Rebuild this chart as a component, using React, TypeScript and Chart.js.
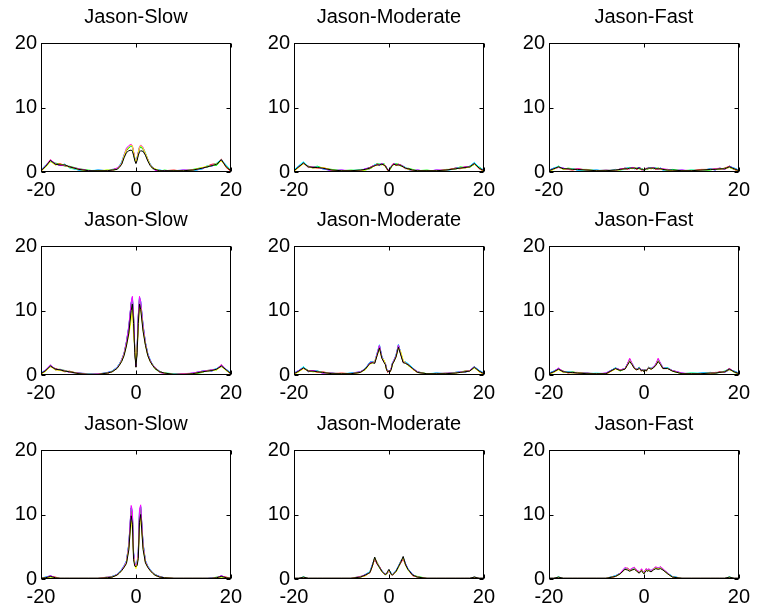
import { useEffect, useRef } from "react";
import { Chart, registerables } from "chart.js";

Chart.register(...registerables);

// Shared sample positions along the horizontal axis (denser near the centre)
const X = [
  -20, -19, -18, -17, -16, -15, -14,
  -12, -10, -8, -6, -5, -4,
  -3.5, -3, -2.5, -2, -1.5, -1,
  -0.75, -0.5, -0.25, 0, 0.25, 0.5, 0.75,
  1, 1.5, 2, 2.5, 3, 3.5, 4,
  5, 6, 8, 10, 12,
  14, 15, 16, 17, 18, 19, 20,
];

const TRIAL_COLORS = ["#0000ff", "#00ff00", "#ff0000", "#00ffff", "#ff00ff", "#ffff00", "#000000"];

// Each panel: seven trials in the order blue, green, red, cyan, magenta, yellow, black
const slowA = [
  [0.3,1.0,1.6,1.3,1.0,1.2,0.7, 0.3,0.1,0.3,0.2,0.4,0.5, 0.9,1.4,2.6,3.5,3.8,4.0, 3.9,3.0,2.0,1.5,2.1,2.9,3.7, 4.0,3.6,2.8,1.9,1.1,0.7,0.3, 0.3,0.1,0.2,0.3,0.2, 0.5,0.9,0.9,1.3,1.7,0.9,0.3],
  [0.2,0.8,1.7,1.4,1.2,0.9,0.9, 0.5,0.3,0.1,0.3,0.2,0.5, 0.8,1.3,2.4,3.3,3.7,4.1, 3.8,2.9,1.9,1.4,2.0,2.8,3.6, 3.9,3.5,2.7,1.8,1.2,0.5,0.5, 0.1,0.3,0.1,0.2,0.4, 0.7,0.7,1.1,1.0,1.8,1.0,0.2],
  [0.1,0.9,1.9,1.1,1.3,1.0,0.8, 0.4,0.2,0.2,0.1,0.3,0.6, 0.9,1.5,2.5,3.4,3.9,4.2, 4.0,3.1,2.1,1.6,2.2,3.0,3.8, 4.1,3.7,2.9,2.0,1.1,0.8,0.4, 0.2,0.2,0.3,0.1,0.3, 0.6,0.9,1.2,1.3,2.0,0.7,0.1],
  [0.3,1.1,1.7,1.2,1.1,1.2,0.6, 0.3,0.2,0.3,0.2,0.3,0.5, 1.0,1.6,2.7,3.6,3.9,4.1, 3.9,3.0,2.2,1.7,2.3,3.1,3.9, 4.0,3.8,3.0,1.9,1.3,0.7,0.4, 0.3,0.2,0.2,0.2,0.2, 0.5,1.0,1.0,1.4,1.9,1.1,0.3],
  [0.2,1.0,1.9,1.3,1.0,1.0,0.8, 0.5,0.2,0.1,0.2,0.2,0.6, 0.9,1.4,2.6,3.7,4.1,4.3, 4.0,3.2,2.0,1.5,2.2,3.1,3.9, 4.2,3.8,2.8,1.8,1.2,0.6,0.3, 0.1,0.2,0.1,0.3,0.3, 0.6,0.8,1.1,1.2,1.8,0.9,0.2],
  [0.1,0.8,1.6,1.1,1.2,1.1,0.7, 0.4,0.1,0.2,0.3,0.3,0.4, 0.8,1.3,2.5,3.5,3.8,4.2, 4.0,3.1,2.1,1.6,2.1,3.0,3.8, 4.1,3.7,2.9,1.9,1.1,0.6,0.5, 0.2,0.1,0.2,0.2,0.3, 0.7,0.9,1.0,1.3,1.7,0.8,0.3],
  [0.2,0.9,1.8,1.2,1.1,1.1,0.8, 0.4,0.2,0.2,0.2,0.3,0.4, 0.7,1.2,2.2,3.0,3.3,3.4, 3.2,2.6,1.8,1.3,1.8,2.6,3.1, 3.3,3.2,2.6,1.7,1.0,0.6,0.4, 0.2,0.2,0.2,0.2,0.3, 0.6,0.8,1.0,1.2,1.9,0.8,0.2],
];

const moderateA = [
  [0.3,0.9,1.3,0.9,0.6,0.8,0.5, 0.2,0.3,0.1,0.2,0.5,0.7, 0.9,1.1,1.2,1.0,1.3,1.2, 1.0,0.7,0.4,0.3,0.6,0.9,1.1, 1.3,1.2,1.0,1.1,0.9,0.7,0.4, 0.2,0.3,0.1,0.3,0.2, 0.6,0.7,0.6,0.9,1.4,0.7,0.3],
  [0.2,0.7,1.5,0.7,0.8,0.9,0.6, 0.4,0.2,0.3,0.2,0.3,0.5, 0.7,1.1,1.3,1.2,1.1,1.3, 0.8,0.5,0.4,0.3,0.4,0.7,1.1, 1.1,1.3,1.2,0.9,0.9,0.5,0.6, 0.4,0.2,0.3,0.1,0.4, 0.4,0.8,0.7,0.7,1.2,0.8,0.2],
  [0.1,0.8,1.3,0.9,0.7,0.6,0.7, 0.3,0.1,0.2,0.3,0.4,0.7, 0.9,0.9,1.2,1.2,1.3,1.0, 1.0,0.6,0.2,0.3,0.6,0.8,1.2, 1.3,1.0,1.2,1.1,0.7,0.6,0.5, 0.3,0.1,0.2,0.2,0.3, 0.6,0.5,0.8,0.8,1.4,0.5,0.1],
  [0.3,1.0,1.6,0.8,0.7,0.8,0.5, 0.3,0.2,0.2,0.4,0.4,0.6, 0.8,1.2,1.1,1.3,1.2,1.2, 0.9,0.7,0.3,0.2,0.5,0.9,1.0, 1.2,1.2,1.1,1.0,0.8,0.7,0.4, 0.3,0.2,0.2,0.2,0.2, 0.5,0.7,0.7,0.9,1.5,0.7,0.3],
  [0.2,0.8,1.4,0.7,0.8,0.7,0.6, 0.2,0.3,0.2,0.2,0.5,0.5, 0.9,1.0,1.2,1.1,1.3,1.1, 1.0,0.5,0.4,0.3,0.5,0.8,1.1, 1.3,1.1,1.2,1.0,0.9,0.5,0.5, 0.2,0.3,0.1,0.3,0.3, 0.5,0.6,0.8,0.8,1.3,0.6,0.2],
  [0.1,0.7,1.3,0.8,0.6,0.7,0.7, 0.3,0.2,0.2,0.3,0.3,0.6, 0.7,1.0,1.0,1.2,1.1,1.2, 0.8,0.6,0.3,0.2,0.4,0.8,1.0, 1.1,1.2,1.0,1.0,0.8,0.6,0.4, 0.3,0.2,0.2,0.2,0.3, 0.5,0.6,0.6,0.8,1.2,0.6,0.1],
  [0.2,0.8,1.4,0.8,0.7,0.7,0.6, 0.3,0.2,0.2,0.3,0.4,0.6, 0.8,1.0,1.1,1.1,1.2,1.1, 0.9,0.6,0.3,0.2,0.5,0.8,1.0, 1.2,1.1,1.1,1.0,0.8,0.6,0.5, 0.3,0.2,0.2,0.2,0.3, 0.5,0.6,0.7,0.8,1.3,0.6,0.2],
];

const fastA = [
  [0.3,0.6,0.7,0.6,0.4,0.5,0.3, 0.2,0.3,0.1,0.4,0.3,0.6, 0.6,0.5,0.7,0.5,0.6,0.7, 0.6,0.5,0.3,0.4,0.5,0.4,0.6, 0.7,0.5,0.7,0.6,0.4,0.6,0.3, 0.4,0.2,0.3,0.1,0.2, 0.5,0.3,0.6,0.4,0.9,0.6,0.3],
  [0.2,0.4,0.9,0.4,0.6,0.5,0.4, 0.4,0.2,0.3,0.2,0.5,0.4, 0.6,0.7,0.5,0.7,0.6,0.5, 0.4,0.5,0.5,0.3,0.3,0.6,0.4, 0.5,0.7,0.5,0.6,0.6,0.4,0.5, 0.2,0.4,0.2,0.3,0.2, 0.3,0.5,0.4,0.6,0.7,0.4,0.2],
  [0.1,0.5,0.8,0.5,0.4,0.3,0.5, 0.3,0.1,0.2,0.2,0.4,0.6, 0.4,0.6,0.7,0.6,0.4,0.6, 0.6,0.3,0.4,0.4,0.5,0.5,0.6, 0.6,0.5,0.6,0.4,0.6,0.5,0.4, 0.3,0.2,0.2,0.2,0.4, 0.4,0.5,0.4,0.6,0.9,0.4,0.1],
  [0.3,0.6,0.9,0.5,0.5,0.5,0.3, 0.2,0.3,0.2,0.3,0.3,0.4, 0.6,0.7,0.6,0.5,0.6,0.5, 0.5,0.5,0.4,0.3,0.4,0.4,0.6, 0.7,0.6,0.5,0.6,0.5,0.6,0.3, 0.3,0.3,0.1,0.3,0.2, 0.5,0.4,0.5,0.5,0.8,0.6,0.3],
  [0.2,0.5,0.7,0.6,0.4,0.4,0.5, 0.3,0.2,0.3,0.2,0.5,0.5, 0.5,0.5,0.7,0.7,0.5,0.6, 0.6,0.4,0.3,0.4,0.5,0.6,0.5, 0.6,0.6,0.7,0.5,0.4,0.5,0.5, 0.4,0.2,0.3,0.2,0.3, 0.4,0.5,0.6,0.4,0.8,0.5,0.2],
  [0.1,0.4,0.8,0.4,0.5,0.4,0.4, 0.3,0.2,0.2,0.3,0.3,0.5, 0.5,0.6,0.5,0.6,0.6,0.5, 0.5,0.4,0.4,0.3,0.4,0.5,0.4, 0.6,0.5,0.6,0.5,0.5,0.4,0.4, 0.3,0.2,0.2,0.2,0.3, 0.4,0.4,0.5,0.5,0.7,0.5,0.1],
  [0.2,0.5,0.8,0.5,0.5,0.4,0.4, 0.3,0.2,0.2,0.3,0.4,0.5, 0.5,0.6,0.6,0.6,0.5,0.6, 0.5,0.4,0.4,0.3,0.4,0.5,0.5, 0.6,0.6,0.6,0.5,0.5,0.5,0.4, 0.3,0.3,0.2,0.2,0.3, 0.4,0.4,0.5,0.5,0.8,0.5,0.2],
];

const slowB = [
  [0.3,0.8,1.3,1.0,0.7,0.7,0.4, 0.3,0.2,0.1,0.4,0.6,1.2, 1.7,2.4,3.4,5.2,7.6,11.2, 12.0,9.0,4.0,1.4,4.2,9.2,12.0, 11.4,7.8,5.0,3.3,2.3,1.6,1.1, 0.6,0.2,0.2,0.1,0.3, 0.6,0.7,0.6,1.0,1.3,0.9,0.3],
  [0.2,0.6,1.5,0.8,0.9,0.7,0.5, 0.3,0.1,0.2,0.3,0.5,1.1, 1.6,2.2,3.2,4.9,7.0,10.6, 11.6,8.6,3.8,1.3,3.9,8.8,11.5, 10.8,7.2,4.8,3.1,2.2,1.7,1.0, 0.4,0.3,0.2,0.2,0.1, 0.4,0.7,0.8,0.8,1.5,0.7,0.2],
  [0.1,0.7,1.3,1.0,0.8,0.5,0.6, 0.2,0.2,0.1,0.2,0.6,1.1, 1.6,2.3,3.3,5.0,7.3,11.0, 11.8,8.8,3.9,1.3,4.0,9.0,11.8, 11.0,7.5,4.9,3.2,2.2,1.5,1.2, 0.5,0.3,0.1,0.2,0.2, 0.5,0.6,0.8,0.9,1.6,0.8,0.1],
  [0.3,0.8,1.5,0.9,0.8,0.6,0.5, 0.2,0.2,0.2,0.3,0.6,1.2, 1.7,2.3,3.3,5.1,7.4,11.1, 12.1,9.1,4.1,1.5,4.1,9.1,12.1, 11.3,7.7,5.1,3.3,2.4,1.6,1.1, 0.5,0.3,0.2,0.1,0.2, 0.6,0.6,0.8,1.0,1.5,0.9,0.3],
  [0.2,0.8,1.6,0.8,0.8,0.7,0.4, 0.3,0.1,0.2,0.3,0.5,1.1, 1.6,2.3,3.3,5.1,7.4,11.3, 12.2,9.2,4.2,1.4,4.1,9.3,12.2, 11.4,7.6,5.0,3.2,2.3,1.6,1.1, 0.4,0.2,0.1,0.2,0.3, 0.6,0.7,0.8,0.9,1.6,0.8,0.2],
  [0.1,0.6,1.3,0.8,0.7,0.6,0.5, 0.2,0.1,0.1,0.3,0.5,1.0, 1.5,2.2,3.1,4.6,6.2,8.5, 10.5,6.0,4.5,1.8,4.0,7.0,10.5, 10.4,7.0,4.7,3.0,2.1,1.5,1.0, 0.5,0.3,0.1,0.1,0.2, 0.5,0.6,0.7,0.8,1.3,0.7,0.2],
  [0.2,0.7,1.4,0.9,0.8,0.6,0.5, 0.2,0.1,0.1,0.3,0.5,1.0, 1.5,2.1,3.0,4.5,6.5,10.0, 11.0,8.0,3.5,1.2,3.5,8.0,11.0, 10.2,6.8,4.6,3.0,2.1,1.5,1.0, 0.5,0.3,0.1,0.1,0.2, 0.5,0.6,0.7,0.9,1.4,0.8,0.2],
];

const moderateB = [
  [0.3,0.7,1.2,0.5,0.7,0.6,0.3, 0.3,0.1,0.3,0.5,1.0,2.0, 2.1,2.0,3.3,4.6,2.9,2.1, 1.8,1.0,0.6,0.7,0.6,1.1,1.9, 2.2,3.1,4.7,3.4,2.1,2.0,1.7, 1.1,0.5,0.1,0.3,0.2, 0.4,0.5,0.4,0.7,1.3,0.7,0.3],
  [0.2,0.5,1.2,0.7,0.5,0.6,0.4, 0.3,0.2,0.1,0.5,0.8,1.9, 2.0,1.9,3.2,4.4,2.8,2.0, 1.7,0.9,0.7,0.5,0.7,1.0,1.8, 2.1,3.0,4.5,3.2,2.0,1.9,1.5, 1.0,0.5,0.2,0.2,0.3, 0.3,0.5,0.6,0.7,1.1,0.6,0.2],
  [0.1,0.6,1.0,0.7,0.6,0.4,0.5, 0.2,0.3,0.2,0.4,1.0,1.9, 2.0,1.9,3.1,4.5,2.7,2.0, 1.7,0.9,0.4,0.7,0.5,1.0,1.8, 2.1,2.9,4.6,3.3,2.0,1.9,1.7, 0.9,0.4,0.2,0.2,0.2, 0.4,0.4,0.6,0.6,1.3,0.5,0.1],
  [0.3,0.7,1.3,0.6,0.6,0.6,0.4, 0.2,0.2,0.3,0.4,1.0,2.0, 2.1,2.0,3.4,4.7,2.9,2.1, 1.8,1.0,0.6,0.6,0.6,1.0,1.9, 2.2,3.1,4.7,3.4,2.2,2.0,1.8, 1.1,0.4,0.2,0.3,0.2, 0.4,0.5,0.5,0.6,1.3,0.7,0.3],
  [0.2,0.7,1.1,0.6,0.7,0.5,0.3, 0.3,0.2,0.2,0.5,0.9,1.9, 2.0,2.0,3.3,4.6,2.8,2.1, 1.8,1.0,0.5,0.7,0.6,1.1,1.8, 2.2,3.0,4.6,3.3,2.1,1.9,1.6, 1.0,0.5,0.1,0.2,0.3, 0.3,0.5,0.5,0.7,1.2,0.6,0.2],
  [0.1,0.5,1.0,0.6,0.5,0.5,0.4, 0.2,0.2,0.2,0.4,0.8,1.7, 1.8,2.1,3.0,4.1,2.6,2.3, 1.6,0.8,0.6,0.6,0.5,0.9,1.6, 2.0,2.8,4.2,3.6,2.3,1.8,1.5, 0.9,0.4,0.2,0.2,0.2, 0.3,0.4,0.5,0.6,1.1,0.5,0.1],
  [0.2,0.6,1.1,0.6,0.6,0.5,0.4, 0.2,0.2,0.2,0.4,0.9,1.8, 1.9,1.8,3.0,4.2,2.6,1.9, 1.6,0.8,0.5,0.6,0.5,0.9,1.7, 2.0,2.8,4.3,3.1,1.9,1.8,1.6, 1.0,0.4,0.2,0.2,0.2, 0.3,0.4,0.5,0.6,1.2,0.6,0.2],
];

const fastB = [
  [0.3,0.6,1.0,0.4,0.5,0.3,0.3, 0.3,0.1,0.3,1.1,0.8,1.0, 1.7,2.4,1.8,1.1,0.9,1.2, 1.0,0.7,0.9,0.6,0.9,0.7,1.0, 1.2,1.0,1.3,1.7,2.4,1.8,1.1, 1.1,0.7,0.3,0.1,0.3, 0.4,0.2,0.5,0.4,0.8,0.6,0.3],
  [0.2,0.4,1.0,0.6,0.4,0.5,0.3, 0.3,0.2,0.2,1.1,0.6,1.0, 1.6,2.3,1.7,1.1,0.9,1.1, 1.0,0.7,0.9,0.6,0.9,0.7,1.0, 1.2,1.0,1.2,1.6,2.3,1.7,1.1, 1.1,0.6,0.2,0.3,0.2, 0.3,0.4,0.4,0.6,1.0,0.4,0.2],
  [0.1,0.5,0.9,0.6,0.3,0.4,0.4, 0.2,0.2,0.1,1.0,0.8,0.9, 1.6,2.5,1.7,1.0,0.8,1.1, 0.9,0.6,0.8,0.6,0.9,0.6,1.0, 1.2,0.9,1.2,1.6,2.5,1.7,1.0, 1.0,0.7,0.2,0.2,0.2, 0.3,0.3,0.5,0.5,1.0,0.5,0.1],
  [0.3,0.6,1.0,0.5,0.5,0.4,0.3, 0.2,0.3,0.2,1.1,0.7,1.0, 1.7,2.4,1.8,1.1,0.9,1.1, 1.0,0.7,0.9,0.5,0.9,0.7,1.0, 1.2,1.0,1.2,1.7,2.4,1.8,1.1, 1.1,0.7,0.2,0.3,0.3, 0.4,0.3,0.4,0.6,0.9,0.6,0.3],
  [0.2,0.5,1.1,0.5,0.4,0.4,0.2, 0.3,0.2,0.3,1.0,0.8,1.0, 1.7,2.6,1.8,1.1,0.9,1.0, 1.0,0.6,0.9,0.6,0.8,0.7,1.0, 1.1,1.0,1.2,1.7,2.6,1.8,1.1, 1.0,0.7,0.3,0.2,0.2, 0.3,0.4,0.4,0.5,1.0,0.5,0.2],
  [0.1,0.4,0.8,0.4,0.4,0.3,0.3, 0.2,0.2,0.2,0.9,0.7,0.9, 1.5,2.2,1.6,1.0,0.8,1.0, 0.9,0.6,0.8,0.5,0.8,0.6,0.9, 1.1,0.9,1.1,1.5,2.2,1.6,1.0, 1.0,0.6,0.2,0.2,0.2, 0.3,0.3,0.4,0.5,0.8,0.5,0.1],
  [0.2,0.5,0.9,0.5,0.4,0.4,0.3, 0.2,0.2,0.2,1.0,0.7,0.9, 1.5,2.1,1.6,1.0,0.8,1.0, 0.9,0.6,0.8,0.5,0.8,0.6,0.9, 1.1,0.9,1.1,1.5,2.1,1.6,1.0, 1.0,0.6,0.2,0.2,0.2, 0.3,0.3,0.4,0.5,0.9,0.5,0.2],
];

const slowC = [
  [0.1,0.3,0.5,0.2,0.1,0.1,0.1, 0.1,0.1,0.1,0.2,0.4,0.7, 1.0,1.5,2.0,2.8,5.4,11.0, 10.2,4.0,2.5,2.2,2.6,4.2,10.4, 11.2,5.5,2.8,2.0,1.4,1.0,0.7, 0.4,0.2,0.1,0.1,0.1, 0.1,0.1,0.2,0.2,0.5,0.2,0.1],
  [0.1,0.2,0.3,0.2,0.1,0.1,0.1, 0.1,0.1,0.1,0.3,0.3,0.7, 1.0,1.4,1.9,2.6,5.0,10.6, 9.6,3.6,2.3,2.0,2.3,3.8,9.8, 10.8,5.1,2.7,1.9,1.4,1.0,0.6, 0.3,0.2,0.1,0.1,0.1, 0.1,0.1,0.1,0.3,0.3,0.2,0.1],
  [0.1,0.2,0.4,0.3,0.1,0.1,0.1, 0.1,0.1,0.1,0.2,0.4,0.6, 1.0,1.4,2.0,2.7,5.2,11.0, 10.0,3.8,2.4,2.1,2.4,4.0,10.2, 11.1,5.3,2.7,1.9,1.4,1.0,0.7, 0.3,0.2,0.1,0.1,0.1, 0.1,0.1,0.1,0.2,0.4,0.3,0.1],
  [0.1,0.3,0.4,0.2,0.1,0.1,0.1, 0.1,0.1,0.1,0.2,0.4,0.7, 1.1,1.5,2.1,2.8,5.5,11.2, 10.4,4.2,2.6,2.2,2.6,4.3,10.6, 11.3,5.6,2.9,2.0,1.5,1.0,0.7, 0.3,0.2,0.1,0.1,0.1, 0.1,0.1,0.1,0.2,0.4,0.2,0.1],
  [0.1,0.2,0.5,0.2,0.1,0.1,0.1, 0.1,0.1,0.1,0.3,0.3,0.7, 1.0,1.4,2.0,2.7,5.3,11.4, 10.6,4.1,2.5,2.1,2.5,4.2,10.8, 11.5,5.4,2.8,1.9,1.4,1.0,0.6, 0.3,0.2,0.1,0.1,0.1, 0.1,0.1,0.1,0.2,0.5,0.2,0.1],
  [0.1,0.2,0.3,0.2,0.1,0.1,0.1, 0.1,0.1,0.1,0.2,0.3,0.6, 0.9,1.3,1.8,2.5,4.8,9.0, 7.6,3.4,2.2,1.6,2.3,3.5,8.0, 9.5,4.9,2.6,1.8,1.3,0.9,0.6, 0.3,0.2,0.1,0.1,0.1, 0.1,0.1,0.1,0.2,0.3,0.2,0.1],
  [0.1,0.2,0.4,0.2,0.1,0.1,0.1, 0.1,0.1,0.1,0.2,0.3,0.6, 0.9,1.3,1.8,2.4,4.5,9.8, 8.5,3.0,2.0,1.9,2.1,3.2,8.8, 10.0,4.6,2.5,1.8,1.3,0.9,0.6, 0.3,0.2,0.1,0.1,0.1, 0.1,0.1,0.1,0.2,0.4,0.2,0.1],
];

const moderateC = [
  [0.1,0.1,0.2,0.1,0.1,0.1,0.1, 0.1,0.1,0.1,0.3,0.7,1.1, 2.2,3.2,2.6,1.9,1.3,0.9, 0.8,0.7,1.0,1.3,1.2,0.8,0.7, 0.9,1.3,2.0,2.8,3.3,2.4,1.6, 0.7,0.3,0.1,0.1,0.1, 0.1,0.1,0.1,0.1,0.2,0.1,0.1],
  [0.1,0.1,0.3,0.1,0.1,0.1,0.1, 0.1,0.1,0.1,0.4,0.6,1.1, 2.1,3.0,2.5,1.7,1.2,0.8, 0.6,0.8,1.1,1.4,1.0,0.7,0.7, 0.8,1.1,1.8,2.7,3.2,2.3,1.4, 0.6,0.4,0.1,0.1,0.1, 0.1,0.1,0.1,0.1,0.2,0.1,0.1],
  [0.1,0.1,0.2,0.1,0.1,0.1,0.1, 0.1,0.1,0.1,0.3,0.5,1.0, 2.0,3.1,2.3,1.9,1.3,0.8, 0.7,0.8,1.1,1.2,1.1,0.8,0.6, 0.9,1.2,1.9,2.5,3.1,2.2,1.5, 0.5,0.3,0.1,0.1,0.1, 0.1,0.1,0.1,0.1,0.3,0.1,0.1],
  [0.1,0.1,0.3,0.1,0.1,0.1,0.1, 0.1,0.1,0.1,0.3,0.6,1.2, 2.2,3.3,2.5,1.8,1.3,0.9, 0.7,0.7,1.1,1.4,1.2,0.8,0.7, 0.9,1.3,2.0,2.7,3.4,2.3,1.6, 0.6,0.3,0.1,0.1,0.1, 0.1,0.1,0.1,0.1,0.3,0.1,0.1],
  [0.1,0.1,0.2,0.1,0.1,0.1,0.1, 0.1,0.1,0.1,0.4,0.6,1.0, 2.1,3.2,2.4,1.8,1.2,0.8, 0.7,0.8,1.0,1.3,1.0,0.7,0.6, 0.8,1.2,1.9,2.6,3.3,2.3,1.5, 0.6,0.3,0.1,0.1,0.1, 0.1,0.1,0.1,0.1,0.2,0.1,0.1],
  [0.1,0.1,0.2,0.1,0.1,0.1,0.1, 0.1,0.1,0.1,0.3,0.5,1.0, 1.9,3.3,2.6,1.8,1.1,0.8, 0.7,0.7,1.1,1.3,1.0,0.7,0.6, 0.8,1.1,1.8,2.7,3.3,2.1,1.4, 0.6,0.3,0.1,0.1,0.1, 0.1,0.1,0.1,0.1,0.2,0.1,0.1],
  [0.1,0.1,0.3,0.1,0.1,0.1,0.1, 0.1,0.1,0.1,0.3,0.6,1.0, 2.0,3.4,2.4,1.8,1.2,0.8, 0.7,0.8,1.2,1.5,1.1,0.7,0.6, 0.8,1.2,1.9,2.6,3.5,2.2,1.5, 0.6,0.3,0.1,0.1,0.1, 0.1,0.1,0.1,0.1,0.3,0.1,0.1],
];

const fastC = [
  [0.1,0.1,0.2,0.1,0.1,0.1,0.1, 0.1,0.1,0.1,0.5,0.9,1.7, 1.6,1.4,1.5,1.7,1.4,1.1, 1.3,1.5,1.2,1.0,1.3,1.5,1.4, 1.5,1.3,1.6,1.8,1.7,1.8,1.5, 0.9,0.4,0.1,0.1,0.1, 0.1,0.1,0.1,0.1,0.2,0.1,0.1],
  [0.1,0.1,0.3,0.1,0.1,0.1,0.1, 0.1,0.1,0.1,0.4,0.8,1.6, 1.5,1.3,1.6,1.6,1.3,1.0, 1.2,1.4,1.1,0.9,1.2,1.4,1.3, 1.4,1.2,1.5,1.7,1.6,1.7,1.5, 0.8,0.3,0.1,0.1,0.1, 0.1,0.1,0.1,0.1,0.3,0.1,0.1],
  [0.1,0.1,0.2,0.1,0.1,0.1,0.1, 0.1,0.1,0.1,0.4,0.9,1.6, 1.7,1.4,1.5,1.8,1.3,1.0, 1.2,1.5,1.1,0.9,1.3,1.6,1.3, 1.5,1.2,1.5,1.8,1.6,1.9,1.5, 0.9,0.3,0.1,0.1,0.1, 0.1,0.1,0.1,0.1,0.2,0.1,0.1],
  [0.1,0.1,0.3,0.1,0.1,0.1,0.1, 0.1,0.1,0.1,0.5,0.9,1.7, 1.6,1.3,1.6,1.7,1.4,1.0, 1.3,1.4,1.2,0.9,1.2,1.5,1.4, 1.4,1.3,1.6,1.7,1.7,1.8,1.5, 0.9,0.4,0.1,0.1,0.1, 0.1,0.1,0.1,0.1,0.3,0.1,0.1],
  [0.1,0.1,0.2,0.1,0.1,0.1,0.1, 0.1,0.1,0.1,0.4,0.9,1.8, 1.6,1.4,1.7,1.8,1.4,1.1, 1.3,1.6,1.2,1.0,1.3,1.6,1.4, 1.6,1.3,1.6,1.9,1.7,1.9,1.6, 0.9,0.3,0.1,0.1,0.1, 0.1,0.1,0.1,0.1,0.2,0.1,0.1],
  [0.1,0.1,0.2,0.1,0.1,0.1,0.1, 0.1,0.1,0.1,0.4,0.8,1.5, 1.5,1.3,1.4,1.6,1.2,1.0, 1.2,1.4,1.1,0.9,1.1,1.4,1.2, 1.4,1.1,1.5,1.7,1.6,1.7,1.4, 0.8,0.3,0.1,0.1,0.1, 0.1,0.1,0.1,0.1,0.2,0.1,0.1],
  [0.1,0.1,0.3,0.1,0.1,0.1,0.1, 0.1,0.1,0.1,0.4,0.8,1.5, 1.4,1.2,1.4,1.5,1.2,0.9, 1.1,1.3,1.0,0.8,1.1,1.3,1.2, 1.3,1.1,1.4,1.6,1.5,1.6,1.4, 0.8,0.3,0.1,0.1,0.1, 0.1,0.1,0.1,0.1,0.3,0.1,0.1],
];

const TITLES = ["Jason-Slow", "Jason-Moderate", "Jason-Fast"];
const GRID = [
  [slowA, moderateA, fastA],
  [slowB, moderateB, fastB],
  [slowC, moderateC, fastC],
];

const X_TICKS = [-20, 0, 20];
const Y_TICKS = [0, 10, 20];

// Panel geometry on the page
const BOX_LEFT = [41, 294, 549];
const BOX_TOP = [43, 246, 450];
const BOX_W = 191;
const BOX_H = 129;
const AXIS_W = 41;
const TITLE_H = 43;
const XAXIS_H = 30;
const RIGHT_PAD = 16;

const FONT_FAMILY = "'Liberation Sans', Arial, Helvetica, sans-serif";

// Closed frame with short inward tick marks on all four sides
const framePlugin = {
  id: "frameBox",
  afterDatasetsDraw(chart: any) {
    const { ctx, chartArea: a, scales } = chart;
    const l = Math.round(a.left) + 0.5;
    const r = Math.round(a.right) - 0.5;
    const t = Math.round(a.top) + 0.5;
    const b = Math.round(a.bottom) - 0.5;
    const tl = 4;
    ctx.save();
    ctx.strokeStyle = "#000";
    ctx.lineWidth = 1;
    ctx.strokeRect(l, t, r - l, b - t);
    ctx.beginPath();
    for (const v of X_TICKS) {
      const px = Math.round(scales.x.getPixelForValue(v)) + 0.5;
      ctx.moveTo(px, b);
      ctx.lineTo(px, b - tl);
      ctx.moveTo(px, t);
      ctx.lineTo(px, t + tl);
    }
    for (const v of Y_TICKS) {
      const py = Math.round(scales.y.getPixelForValue(v)) + 0.5;
      ctx.moveTo(l, py);
      ctx.lineTo(l + tl, py);
      ctx.moveTo(r, py);
      ctx.lineTo(r - tl, py);
    }
    ctx.stroke();
    ctx.restore();
  },
};

function Panel({ row, col }: { row: number; col: number }) {
  const ref = useRef<HTMLCanvasElement>(null);
  useEffect(() => {
    const trials = GRID[row][col];
    // later trials sit on top, so list them in reverse (Chart.js paints index 0 last)
    const datasets = trials
      .map((ys, i) => ({
        label: `trial ${i + 1}`,
        data: ys.map((y, k) => ({ x: X[k], y })),
        borderColor: TRIAL_COLORS[i],
        borderWidth: 1,
        pointRadius: 0,
        tension: 0,
        fill: false,
      }))
      .reverse();
    const tickFont = { family: FONT_FAMILY, size: 20 };
    const chart = new Chart(ref.current as HTMLCanvasElement, {
      type: "line",
      data: { datasets },
      options: {
        animation: false,
        responsive: false,
        events: [],
        layout: { padding: { left: 0, right: RIGHT_PAD, top: 0, bottom: 0 } },
        plugins: {
          legend: { display: false },
          tooltip: { enabled: false },
          title: {
            display: true,
            fullSize: false,
            text: TITLES[col],
            color: "#000",
            font: { family: FONT_FAMILY, size: 20, weight: "normal", lineHeight: 1.2 },
            padding: { top: 5, bottom: 14 },
          },
        },
        scales: {
          x: {
            type: "linear",
            min: -20,
            max: 20,
            afterBuildTicks: (s: any) => {
              s.ticks = X_TICKS.map((v) => ({ value: v }));
            },
            afterFit: (s: any) => {
              s.height = XAXIS_H;
            },
            grid: { display: false, drawTicks: false },
            border: { display: false },
            ticks: { color: "#000", font: tickFont, padding: 6, maxRotation: 0, autoSkip: false },
          },
          y: {
            type: "linear",
            min: 0,
            max: 20,
            afterBuildTicks: (s: any) => {
              s.ticks = Y_TICKS.map((v) => ({ value: v }));
            },
            afterFit: (s: any) => {
              s.width = AXIS_W;
            },
            grid: { display: false, drawTicks: false },
            border: { display: false },
            ticks: { color: "#000", font: tickFont, padding: 4 },
          },
        },
      },
      plugins: [framePlugin],
    } as any);
    return () => chart.destroy();
  }, [row, col]);

  const w = AXIS_W + BOX_W + RIGHT_PAD;
  const h = TITLE_H + BOX_H + XAXIS_H;
  return (
    <canvas
      ref={ref}
      width={w}
      height={h}
      style={{
        position: "absolute",
        left: BOX_LEFT[col] - AXIS_W,
        top: BOX_TOP[row] - TITLE_H,
        width: w,
        height: h,
      }}
    />
  );
}

export default function App() {
  const cells = [];
  for (let r = 0; r < 3; r++) {
    for (let c = 0; c < 3; c++) {
      cells.push(<Panel key={`${r}-${c}`} row={r} col={c} />);
    }
  }
  return (
    <div
      style={{
        position: "fixed",
        left: 0,
        top: 0,
        width: 758,
        height: 611,
        background: "#fff",
        overflow: "hidden",
      }}
    >
      {cells}
    </div>
  );
}
